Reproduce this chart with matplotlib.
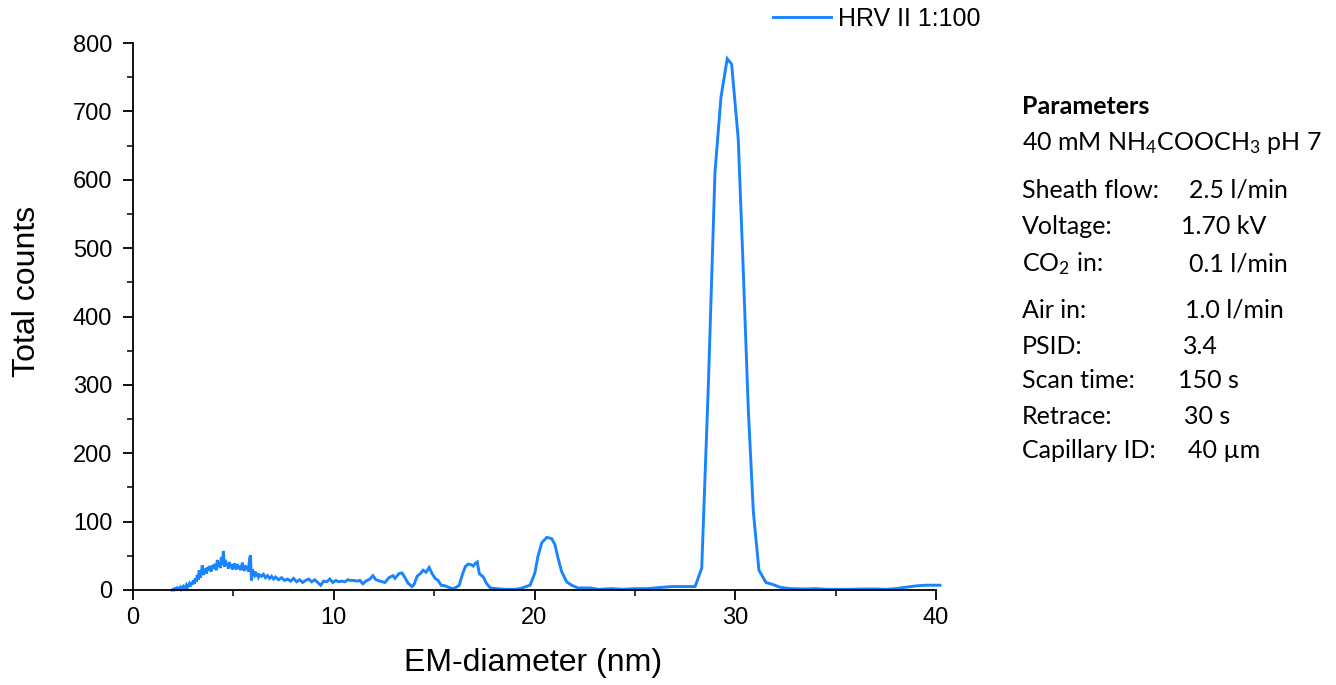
import matplotlib
matplotlib.use("Agg")
import matplotlib.pyplot as plt
from matplotlib.ticker import MultipleLocator

# EM-diameter channels (nm) and total counts for the HRV II 1:100 scan
diameter_nm = [
    1.94, 2.00, 2.05, 2.10, 2.15, 2.20, 2.25, 2.30, 2.35, 2.40, 2.45, 2.50,
    2.55, 2.60, 2.65, 2.70, 2.75, 2.80, 2.85, 2.90, 2.95, 3.00, 3.05, 3.10,
    3.15, 3.20, 3.25, 3.30, 3.35, 3.40, 3.45, 3.50, 3.55, 3.60, 3.65, 3.70,
    3.75, 3.80, 3.85, 3.90, 3.95, 4.00, 4.05, 4.10, 4.15, 4.20, 4.25, 4.30,
    4.35, 4.40, 4.45, 4.50, 4.55, 4.60, 4.65, 4.70, 4.75, 4.80, 4.85, 4.90,
    4.95, 5.00, 5.05, 5.10, 5.15, 5.20, 5.25, 5.30, 5.35, 5.40, 5.45, 5.50,
    5.55, 5.60, 5.65, 5.70, 5.75, 5.80, 5.85, 5.90, 5.95, 6.00, 6.05, 6.10,
    6.15, 6.20, 6.25, 6.30, 6.40, 6.50, 6.60, 6.70, 6.80, 6.90, 7.00, 7.10,
    7.25, 7.40, 7.55, 7.70, 7.85, 8.00, 8.15, 8.30, 8.45, 8.60, 8.75, 8.90,
    9.05, 9.20, 9.35, 9.50, 9.65, 9.80, 9.95, 10.10, 10.25, 10.40, 10.55,
    10.70, 10.85, 11.00, 11.15, 11.30, 11.45, 11.60, 11.80, 11.95, 12.10,
    12.30, 12.55, 12.75, 12.95, 13.05, 13.25, 13.40, 13.55, 13.70, 13.90,
    14.00, 14.15, 14.35, 14.45, 14.60, 14.75, 14.90, 15.05, 15.20, 15.35,
    15.55, 15.90, 16.05, 16.25, 16.40, 16.55, 16.70, 16.85, 16.95, 17.05,
    17.15, 17.25, 17.45, 17.60, 17.80, 18.10, 18.50, 19.00, 19.28, 19.78,
    20.02, 20.17, 20.36, 20.61, 20.86, 21.02, 21.17, 21.35, 21.60, 21.85,
    22.17, 22.77, 23.20, 23.80, 24.40, 25.00, 25.60, 26.00, 26.40, 26.80,
    27.20, 27.75, 28.00, 28.33, 28.66, 28.99, 29.29, 29.60, 29.82, 30.15,
    30.40, 30.65, 30.90, 31.18, 31.53, 31.88, 32.23, 32.73, 33.50, 34.00,
    34.60, 35.50, 36.50, 37.00, 37.50, 38.00, 38.50, 39.00, 39.50, 40.20,
]
total_counts = [
    0, 1, 0, 2, 1, 3, 1, 2, 4, 1, 3, 5,
    2, 4, 7, 3, 6, 9, 5, 11, 8, 14, 9, 17,
    12, 22, 15, 29, 18, 24, 36, 22, 27, 31, 24, 33,
    28, 35, 30, 27, 36, 31, 38, 33, 29, 44, 35, 40,
    32, 48, 37, 57, 34, 44, 36, 39, 31, 41, 34, 37,
    30, 35, 39, 33, 30, 38, 32, 35, 29, 33, 40, 31,
    28, 36, 30, 34, 27, 45, 51, 14, 30, 25, 22, 27,
    20, 24, 19, 22, 20, 23, 18, 21, 17, 20, 16, 19,
    15, 18, 14, 16, 13, 17, 12, 15, 11, 14, 16, 12,
    15, 11, 7, 13, 12, 16, 11, 14, 12, 13, 12,
    15, 14, 14, 13, 14, 9, 13, 16, 21, 15,
    13, 11, 18, 21, 17, 24, 25, 18, 10, 5,
    8, 20, 25, 29, 26, 33, 24, 17, 14, 7,
    6, 2, 3, 7, 22, 34, 38, 37, 35, 39,
    41, 24, 19, 10, 3, 2, 1, 1, 2, 7,
    25, 49, 69, 77, 75, 66, 47, 27, 12, 7,
    3, 3, 1, 2, 1, 2, 2, 3, 4, 5,
    5, 5, 5, 32, 300, 611, 721, 777, 769, 659,
    467, 264, 115, 29, 11, 8, 4, 2, 1.5, 2,
    1, 1, 1.5, 1.5, 1, 2, 4, 6, 7, 7,
]

series_label = "HRV II 1:100"
x_ticks = [0, 10, 20, 30, 40]
y_ticks = [0, 100, 200, 300, 400, 500, 600, 700, 800]

param_title = "Parameters"
param_buffer = "40 mM NH$_4$COOCH$_3$ pH 7"
param_names = ["Sheath flow:", "Voltage:", "CO$_2$ in:", "Air in:", "PSID:",
               "Scan time:", "Retrace:", "Capillary ID:"]
param_values = ["2.5 l/min", "1.70 kV", "0.1 l/min", "1.0 l/min", "3.4",
                "150 s", "30 s", "40 µm"]

plt.rcParams["font.family"] = ["Liberation Sans", "DejaVu Sans"]
plt.rcParams["mathtext.fontset"] = "custom"
plt.rcParams["mathtext.rm"] = "Lato"
plt.rcParams["mathtext.it"] = "Lato:italic"

W, H = 1336, 685
fig = plt.figure(figsize=(W / 100, H / 100), dpi=100)
ax = fig.add_axes([133 / W, 1 - 590 / H, (936 - 133) / W, (590 - 43) / H])

line_color = "#1a84ff"
ax.plot(diameter_nm, total_counts, color=line_color, lw=2.1,
        label=series_label, clip_on=False, solid_joinstyle="miter")

ax.set_xlim(0, 40)
ax.set_ylim(0, 800)
ax.set_xticks(x_ticks)
ax.set_yticks(y_ticks)
ax.xaxis.set_minor_locator(MultipleLocator(5))
ax.yaxis.set_minor_locator(MultipleLocator(50))
for side in ("top", "right"):
    ax.spines[side].set_visible(False)
for side in ("left", "bottom"):
    ax.spines[side].set_linewidth(1.3)
ax.tick_params(which="major", direction="out", length=7, width=1.3,
               labelsize=17, pad=5)
ax.tick_params(axis="y", which="major", pad=8)
ax.tick_params(which="minor", direction="out", length=4, width=1.1)

ax.set_xlabel("EM-diameter (nm)", fontsize=23)
ax.set_ylabel("Total counts", fontsize=23)
ax.xaxis.set_label_coords((533 - 133) / 803, -(648 - 590) / 547)
ax.yaxis.set_label_coords((42 - 133) / 803, (590 - 291) / 547)

ax.legend(loc="center left", bbox_to_anchor=(773 / W, 1 - 19 / H),
          bbox_transform=fig.transFigure, frameon=False, fontsize=18,
          handlelength=2.3, handletextpad=0.3, borderaxespad=0,
          borderpad=0)

# parameter block on the right
pfont = dict(family=["Lato", "DejaVu Sans"], fontsize=18, va="center")


def fig_xy(px, py):
    return px / W, 1 - py / H


x0 = 1022
fig.text(*fig_xy(x0, 106), param_title, fontweight="bold", **pfont)
fig.text(*fig_xy(x0, 143), param_buffer, **pfont)
row_y = [190, 227, 264, 310, 346, 381, 416, 451]
value_x = [1189, 1181, 1189, 1185, 1183, 1178, 1184, 1188]
for name, val, py, vx in zip(param_names, param_values, row_y, value_x):
    fig.text(*fig_xy(x0, py), name, **pfont)
    fig.text(*fig_xy(vx, py), val, **pfont)

fig.savefig("out.png", dpi=100)
